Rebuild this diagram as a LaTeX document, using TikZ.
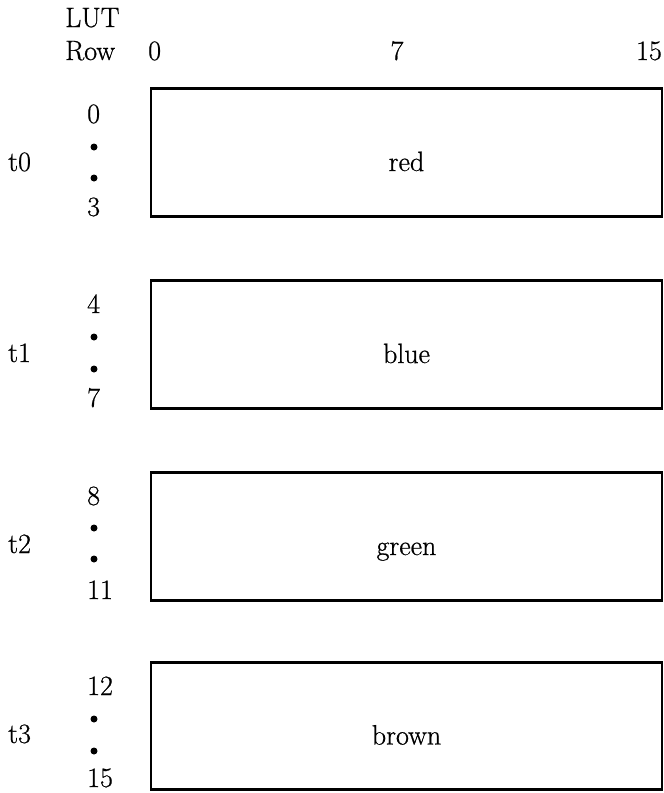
\documentclass[tikz,border=0pt]{standalone}
\usepackage{fontspec}
\newfontfamily\lutfont{Latin Modern Roman}[FakeBold=0.7]
\begin{document}
\begin{tikzpicture}[x=1pt,y=-1pt,
  every node/.style={font=\lutfont\fontsize{28}{32}\selectfont, inner sep=0pt},
  lutbox/.style={draw, line width=2.6pt, minimum width=511pt, minimum height=127.5pt,
                 text height=37pt, text depth=0pt},
  lbl/.style={anchor=base west},
  dotmark/.style={circle, fill, inner sep=0pt, minimum size=7pt}]
\useasboundingbox (0,0) rectangle (664,793);
% header
\node[lbl] (lut) at (65,27) {LUT};
\node[lbl] (row) at (65,60) {Row};
\node[anchor=base west] (c0) at (148,60) {0};
\node[anchor=base] (c7) at (397,60) {7};
\node[anchor=base east] (c15) at (662,60) {15};
% boxes
\node[lutbox] (b0) at (406.5,152.5) {red};
\node[lutbox] (b1) at (406.5,344.5) {blue};
\node[lutbox] (b2) at (406.5,536.5) {green};
\node[lutbox] (b3) at (406.5,726) {brown};
% t labels
\node[lbl] (t0) at (8,171) {t0};
\node[lbl] (t1) at (8,362) {t1};
\node[lbl] (t2) at (8,553) {t2};
\node[lbl] (t3) at (8,743) {t3};
% row numbers
\node[lbl] (r0) at (87,123) {0};
\node[dotmark] (d0a) at (94,147) {};
\node[dotmark] (d0b) at (94,178) {};
\node[lbl] (r3) at (87,216) {3};
\node[lbl] (r4) at (87,313) {4};
\node[dotmark] (d1a) at (94,337) {};
\node[dotmark] (d1b) at (94,369) {};
\node[lbl] (r7) at (87,407) {7};
\node[lbl] (r8) at (87,505) {8};
\node[dotmark] (d2a) at (94,528) {};
\node[dotmark] (d2b) at (94,559) {};
\node[lbl] (r11) at (87,599) {11};
\node[lbl] (r12) at (87,695) {12};
\node[dotmark] (d3a) at (94,719) {};
\node[dotmark] (d3b) at (94,751) {};
\node[lbl] (r15) at (87,787) {15};
\end{tikzpicture}
\end{document}
